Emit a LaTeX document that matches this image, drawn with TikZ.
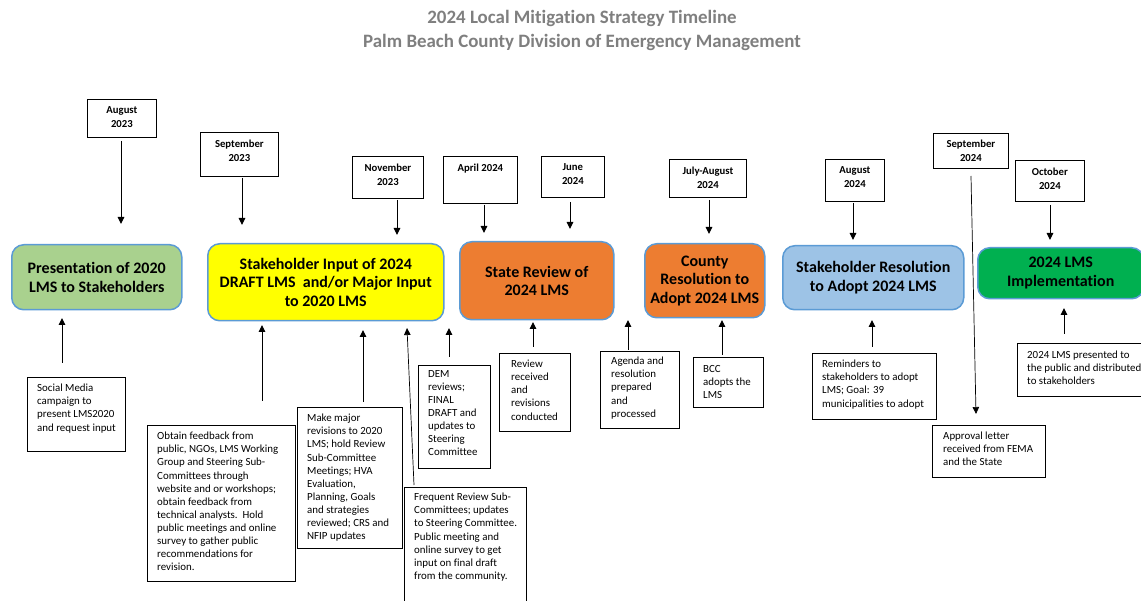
\documentclass[tikz,border=0pt]{standalone}
\usepackage{fontspec}
\setmainfont{Carlito}[Ligatures=NoCommon]
\usetikzlibrary{arrows.meta}
\definecolor{titlegray}{HTML}{7F7F7F}
\definecolor{mainborder}{HTML}{5B9BD5}
\definecolor{lightgreen}{HTML}{A9D18E}
\definecolor{brightyellow}{HTML}{FFFF00}
\definecolor{orangefill}{HTML}{ED7D31}
\definecolor{lightblue}{HTML}{9DC3E6}
\definecolor{darkgreen}{HTML}{00B050}
\begin{document}
\begin{tikzpicture}[x=1pt,y=-1pt,
  datebox/.style={draw, line width=0.8pt, inner sep=0pt, anchor=north west},
  datetxt/.style={font=\bfseries\fontsize{10.7}{14}\selectfont, align=center, inner sep=0pt, anchor=north},
  mainbox/.style={draw=mainborder, line width=1.5pt, rounded corners=12pt, inner sep=0pt, anchor=north west, align=center, font=\bfseries\fontsize{16}{18.5}\selectfont},
  notebox/.style={draw, line width=0.8pt, inner sep=0pt, anchor=north west},
  notetxt/.style={font=\fontsize{10.9}{13.1}\selectfont, align=left, inner sep=0pt, anchor=north west},
  arr/.style={line width=1pt, -{Triangle[length=7pt,width=6.5pt]}},
  thinarr/.style={line width=0.7pt, -{Triangle[length=7pt,width=6.5pt]}}]
\clip (0,0) rectangle (1141,601);
\fill[white] (0,0) rectangle (1141,601);

% title
\node[font=\bfseries\fontsize{18.9}{24}\selectfont, text=titlegray, align=center, inner sep=0pt] (title) at (582,30)
  {2024 Local Mitigation Strategy Timeline\\Palm Beach County Division of Emergency Management};

% date boxes
\node[datebox, minimum width=69, minimum height=38] (d1) at (87,99) {};
\node[datetxt] (d1t) at ([yshift=-7.5pt]d1.north) {August\\2023};
\node[datebox, minimum width=78, minimum height=44] (d2) at (200,132) {};
\node[datetxt] (d2t) at ([yshift=-7.5pt]d2.north) {September\\2023};
\node[datebox, minimum width=71, minimum height=42] (d3) at (352,156) {};
\node[datetxt] (d3t) at ([yshift=-7.5pt]d3.north) {November\\2023};
\node[datebox, minimum width=74, minimum height=47] (d4) at (443,156) {};
\node[datetxt] (d4t) at ([yshift=-7.5pt]d4.north) {April 2024};
\node[datebox, minimum width=63, minimum height=41] (d5) at (541,156) {};
\node[datetxt] (d5t) at ([yshift=-7.5pt]d5.north) {June\\2024};
\node[datebox, minimum width=77, minimum height=38] (d6) at (669,159) {};
\node[datetxt] (d6t) at ([yshift=-7.5pt]d6.north) {July-August\\2024};
\node[datebox, minimum width=59, minimum height=42] (d7) at (825,159) {};
\node[datetxt] (d7t) at ([yshift=-7.5pt]d7.north) {August\\2024};
\node[datebox, minimum width=75, minimum height=35] (d8) at (933,133) {};
\node[datetxt] (d8t) at ([yshift=-7pt]d8.north) {September\\2024};
\node[datebox, minimum width=69, minimum height=41] (d9) at (1015,160) {};
\node[datetxt] (d9t) at ([yshift=-7.5pt]d9.north) {October\\2024};

% main boxes
\node[mainbox, fill=lightgreen, minimum width=170, minimum height=65] (A) at (11,244) {Presentation of 2020\\LMS to Stakeholders};
\node[mainbox, fill=brightyellow, minimum width=236, minimum height=77] (B) at (207,243) {Stakeholder Input of 2024\\DRAFT LMS\ \ and/or Major Input\\to 2020 LMS};
\node[mainbox, fill=orangefill, minimum width=154, minimum height=78] (C) at (459,241) {State Review of\\2024 LMS};
\node[mainbox, fill=orangefill, minimum width=120, minimum height=74] (D) at (644,243) {County\\Resolution to\\Adopt 2024 LMS};
\node[mainbox, fill=lightblue, minimum width=181, minimum height=64] (E) at (782,245) {Stakeholder Resolution\\to Adopt 2024 LMS};
\node[mainbox, fill=darkgreen, minimum width=166, minimum height=51] (F) at (977,247) {2024 LMS\\Implementation};

% note boxes
\node[notebox, minimum width=98, minimum height=74] (na) at (27,377) {};
\node[notetxt] (nat) at (37,384) {Social Media\\campaign to\\present LMS2020\\and request input};
\node[notebox, minimum width=148, minimum height=156] (nb) at (147,425) {};
\node[notetxt] (nbt) at (157,432) {Obtain feedback from\\public, NGOs, LMS Working\\Group and Steering Sub-\\Committees through\\website and or workshops;\\obtain feedback from\\technical analysts.\ \ Hold\\public meetings and online\\survey to gather public\\recommendations for\\revision.};
\node[notebox, minimum width=105, minimum height=141] (nc) at (297,407) {};
\node[notetxt] (nct) at (307,414) {Make major\\revisions to 2020\\LMS; hold Review\\Sub-Committee\\Meetings; HVA\\Evaluation,\\Planning, Goals\\and strategies\\reviewed; CRS and\\NFIP updates};
\node[notebox, minimum width=72, minimum height=103] (nd) at (418,365) {};
\node[notetxt] (ndt) at (428,370) {DEM\\reviews;\\FINAL\\DRAFT and\\updates to\\Steering\\Committee};
\node[notebox, minimum width=122, minimum height=130] (ne) at (404,487) {};
\node[notetxt] (net) at (414,493) {Frequent Review Sub-\\Committees; updates\\to Steering Committee.\\Public meeting and\\online survey to get\\input on final draft\\from the community.};
\node[notebox, minimum width=71, minimum height=78] (nf) at (499,353) {};
\node[notetxt] (nft) at (511,360) {Review\\received\\and\\revisions\\conducted};
\node[notebox, minimum width=79, minimum height=77] (ng) at (600,351) {};
\node[notetxt] (ngt) at (611,357) {Agenda and\\resolution\\prepared\\and\\processed};
\node[notebox, minimum width=70, minimum height=50] (nh) at (693,357) {};
\node[notetxt] (nht) at (703,365) {BCC\\adopts the\\LMS};
\node[notebox, minimum width=124, minimum height=66] (ni) at (812,353) {};
\node[notetxt] (nit) at (822,360) {Reminders to\\stakeholders to adopt\\LMS; Goal: 39\\municipalities to adopt};
\node[notebox, minimum width=113, minimum height=52] (nj) at (932,425) {};
\node[notetxt] (njt) at (943,432) {Approval letter\\received from FEMA\\and the State};
\node[notebox, minimum width=131, minimum height=53] (nk) at (1017,343) {};
\node[notetxt] (nkt) at (1027,351) {2024 LMS presented to\\the public and distributed\\to stakeholders};

% connector end points
\coordinate (c1s) at (121,141); \coordinate (c1e) at (121,224);
\coordinate (c2s) at (242,178); \coordinate (c2e) at (242,225);
\coordinate (c3s) at (397,200); \coordinate (c3e) at (397,235);
\coordinate (c4s) at (484,205); \coordinate (c4e) at (484,233);
\coordinate (c5s) at (570,202); \coordinate (c5e) at (570,229);
\coordinate (c6s) at (709,200); \coordinate (c6e) at (709,234);
\coordinate (c7s) at (853,203); \coordinate (c7e) at (853,240);
\coordinate (c8s) at (971,176); \coordinate (c8e) at (976,414);
\coordinate (c9s) at (1050,205); \coordinate (c9e) at (1050,240);

\coordinate (ua s) at (62,363); \coordinate (ua e) at (62,318);
\coordinate (ub s) at (262,401); \coordinate (ub e) at (262,325);
\coordinate (uc s) at (363,402); \coordinate (uc e) at (363,330);
\coordinate (ud s) at (449,357); \coordinate (ud e) at (449,328);
\coordinate (ue s) at (414,485); \coordinate (ue e) at (407,328);
\coordinate (uf s) at (533,347); \coordinate (uf e) at (533,322);
\coordinate (ug s) at (628,350); \coordinate (ug e) at (628,320);
\coordinate (uh s) at (722,355); \coordinate (uh e) at (722,320);
\coordinate (ui s) at (872,347); \coordinate (ui e) at (872,320);
\coordinate (uk s) at (1064,334); \coordinate (uk e) at (1064,308);

\draw[arr] (c1s) -- (c1e);
\draw[arr] (c2s) -- (c2e);
\draw[arr] (c3s) -- (c3e);
\draw[arr] (c4s) -- (c4e);
\draw[arr] (c5s) -- (c5e);
\draw[arr] (c6s) -- (c6e);
\draw[arr] (c7s) -- (c7e);
\draw[thinarr] (c8s) -- (c8e);
\draw[arr] (c9s) -- (c9e);

\draw[arr] (ua s) -- (ua e);
\draw[arr] (ub s) -- (ub e);
\draw[arr] (uc s) -- (uc e);
\draw[arr] (ud s) -- (ud e);
\draw[thinarr] (ue s) -- (ue e);
\draw[arr] (uf s) -- (uf e);
\draw[arr] (ug s) -- (ug e);
\draw[arr] (uh s) -- (uh e);
\draw[arr] (ui s) -- (ui e);
\draw[arr] (uk s) -- (uk e);
\end{tikzpicture}
\end{document}
